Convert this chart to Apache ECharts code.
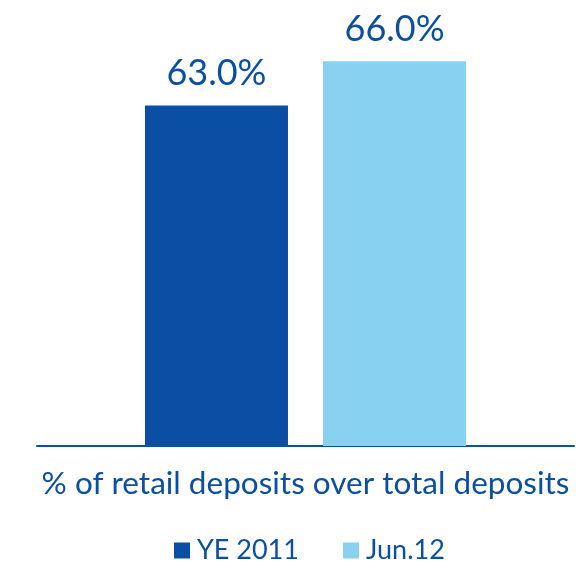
<!DOCTYPE html>
<html>
<head>
<meta charset="utf-8">
<script src="https://cdn.jsdelivr.net/npm/echarts@6/dist/echarts.min.js"></script>
<style>
  html, body { margin: 0; padding: 0; background: #fff; }
  #chart { width: 586px; height: 572px; }
</style>
</head>
<body>
<div id="chart"></div>
<script>
// data
var categories = ['% of retail deposits over total deposits'];
var seriesNames = ['YE 2011', 'Jun.12'];
var ye2011 = [63.0];
var jun12 = [66.0];

var darkBlue = '#0a4fa3';
var lightBlue = '#89d1f1';
var textBlue = '#0b4fa3';

var chart = echarts.init(document.getElementById('chart'));

var labelStyle = {
  show: true,
  position: 'top',
  distance: 14,
  color: textBlue,
  fontFamily: 'Lato',
  fontSize: 36,
  formatter: function (p) { return p.value.toFixed(1) + '%'; }
};

var option = {
  animation: false,
  textStyle: { fontFamily: 'Lato' },
  grid: { left: 37, right: 12, top: 2, bottom: 126 },
  legend: {
    data: seriesNames,
    bottom: 3,
    left: 169,
    itemWidth: 16,
    itemHeight: 16,
    itemGap: 44,
    icon: 'rect',
    textStyle: { color: textBlue, fontSize: 27, fontFamily: 'Lato', padding: [0, 0, 0, 2] }
  },
  xAxis: {
    type: 'category',
    data: categories,
    axisLine: { lineStyle: { color: textBlue, width: 2 } },
    axisTick: { show: false },
    axisLabel: { color: textBlue, fontSize: 31.5, fontFamily: 'Lato', margin: 22 }
  },
  yAxis: {
    type: 'value',
    min: 40,
    max: 70,
    show: false,
    splitLine: { show: false }
  },
  series: [
    {
      name: seriesNames[0],
      type: 'bar',
      data: ye2011,
      barWidth: 143,
      barGap: '24.5%',
      itemStyle: { color: darkBlue },
      label: labelStyle
    },
    {
      name: seriesNames[1],
      type: 'bar',
      data: jun12,
      barWidth: 143,
      itemStyle: { color: lightBlue },
      label: labelStyle
    }
  ]
};

chart.setOption(option);
</script>
</body>
</html>
